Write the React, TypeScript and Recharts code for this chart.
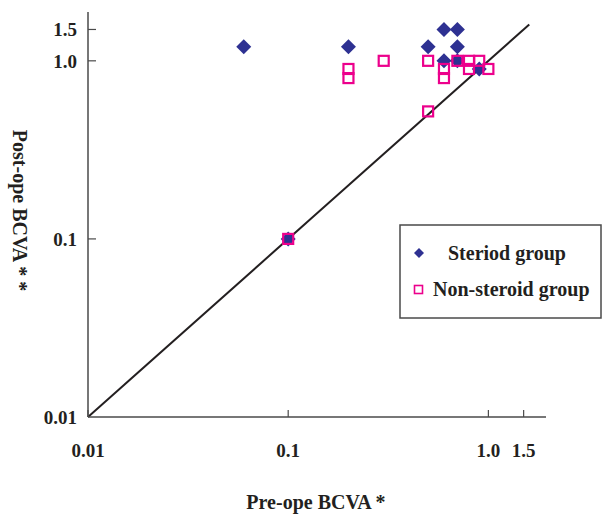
import React from 'react';
import { ScatterChart, Scatter, XAxis, YAxis, ReferenceLine } from 'recharts';

// Pre-operative BCVA (x) and post-operative BCVA (y)
const preOpeSteroid = [0.06, 0.2, 0.5, 0.6, 0.7, 0.7, 0.6, 0.7, 0.9, 0.1];
const postOpeSteroid = [1.2, 1.2, 1.2, 1.5, 1.5, 1.2, 1.0, 1.0, 0.9, 0.1];
const preOpeNonSteroid = [0.2, 0.2, 0.3, 0.5, 0.6, 0.6, 0.7, 0.8, 0.8, 0.9, 1.0, 0.5, 0.1];
const postOpeNonSteroid = [0.9, 0.8, 1.0, 1.0, 0.9, 0.8, 1.0, 1.0, 0.9, 1.0, 0.9, 0.52, 0.1];

const axisTicks = [0.01, 0.1, 1, 1.5];
const tickLabels = ['0.01', '0.1', '1.0', '1.5'];
const diagonalEnds = [0.01, 1.6];

const seriesNames = ['Steriod group', 'Non-steroid group'];
const xTitle = 'Pre-ope BCVA *';
const yTitle = 'Post-ope BCVA * *';

const steroidData = preOpeSteroid.map((x, i) => ({ x, y: postOpeSteroid[i] }));
const nonSteroidData = preOpeNonSteroid.map((x, i) => ({ x, y: postOpeNonSteroid[i] }));

const FONT = '"Liberation Serif", "Times New Roman", serif';
const TEXT = '#231F20';
const AXIS = '#4a4a4a';
const NAVY = '#2E3192';
const MAGENTA = '#EC008C';

const labelFor = (v: number) => {
  const i = axisTicks.indexOf(v);
  return i >= 0 ? tickLabels[i] : String(v);
};

const XTick = (props: any) => {
  const { x, y, payload } = props;
  return (
    <g>
      <line x1={x} x2={x} y1={y} y2={y - 7} stroke={AXIS} strokeWidth={1.2} />
      <text x={x} y={y + 40} textAnchor="middle" fontFamily={FONT} fontWeight="bold" fontSize={19} fill={TEXT}>
        {labelFor(payload.value)}
      </text>
    </g>
  );
};

const YTick = (props: any) => {
  const { x, y, payload } = props;
  return (
    <g>
      {payload.value !== 0.01 && (
        <line x1={x} x2={x + 8} y1={y} y2={y} stroke={AXIS} strokeWidth={1.2} />
      )}
      <text x={x - 11} y={y + 7} textAnchor="end" fontFamily={FONT} fontWeight="bold" fontSize={19} fill={TEXT}>
        {labelFor(payload.value)}
      </text>
    </g>
  );
};

const Diamond = (props: any) => {
  const { cx, cy } = props;
  const r = 7.5;
  return <polygon points={`${cx},${cy - r} ${cx + r},${cy} ${cx},${cy + r} ${cx - r},${cy}`} fill={NAVY} />;
};

const HollowSquare = (props: any) => {
  const { cx, cy } = props;
  const s = 10;
  return <rect x={cx - s / 2} y={cy - s / 2} width={s} height={s} fill="none" stroke={MAGENTA} strokeWidth={2.2} />;
};

const XTitle = (props: any) => {
  const vb = props.viewBox;
  return (
    <text x={vb.x + vb.width / 2 - 1} y={509} textAnchor="middle" fontFamily={FONT} fontWeight="bold" fontSize={20} fill={TEXT}>
      {xTitle}
    </text>
  );
};

const YTitle = (props: any) => {
  const vb = props.viewBox;
  const cx = 20;
  const cy = vb.y + vb.height / 2 - 4;
  return (
    <text x={cx} y={cy} textAnchor="middle" dominantBaseline="central" transform={`rotate(90 ${cx} ${cy})`} fontFamily={FONT} fontWeight="bold" fontSize={20} fill={TEXT}>
      {yTitle}
    </text>
  );
};

export default function App() {
  return (
    <div style={{ position: 'absolute', left: 0, top: 0, width: 602, height: 516, background: '#fff' }}>
      <ScatterChart width={602} height={516} margin={{ top: 12, right: 56, bottom: 0, left: 0 }}>
        <XAxis
          type="number"
          dataKey="x"
          scale="log"
          domain={[0.01, 1.94]}
          ticks={axisTicks}
          allowDataOverflow
          height={99}
          tickSize={0}
          tickMargin={0}
          tickLine={false}
          axisLine={{ stroke: AXIS, strokeWidth: 1.5 }}
          tick={<XTick />}
          label={<XTitle />}
        />
        <YAxis
          type="number"
          dataKey="y"
          scale="log"
          domain={[0.01, 1.88]}
          ticks={axisTicks}
          allowDataOverflow
          width={88}
          tickSize={0}
          tickMargin={0}
          tickLine={false}
          axisLine={{ stroke: AXIS, strokeWidth: 1.5 }}
          tick={<YTick />}
          label={<YTitle />}
        />
        <ReferenceLine
          segment={[
            { x: diagonalEnds[0], y: diagonalEnds[0] },
            { x: diagonalEnds[1], y: diagonalEnds[1] },
          ]}
          stroke={TEXT}
          strokeWidth={2}
          ifOverflow="visible"
        />
        <Scatter name={seriesNames[0]} data={steroidData} shape={<Diamond />} isAnimationActive={false} />
        <Scatter name={seriesNames[1]} data={nonSteroidData} shape={<HollowSquare />} isAnimationActive={false} />
      </ScatterChart>
      <svg style={{ position: 'absolute', left: 399, top: 224 }} width={203} height={95}>
        <rect x={1} y={1} width={201} height={93} fill="#fff" stroke={AXIS} strokeWidth={1.5} />
        <polygon points="20,24 25,29 20,34 15,29" fill={NAVY} />
        <text x={49} y={36} fontFamily={FONT} fontWeight="bold" fontSize={20} fill={TEXT}>{seriesNames[0]}</text>
        <rect x={15.5} y={61.5} width={8} height={8} fill="none" stroke={MAGENTA} strokeWidth={1.6} />
        <text x={34} y={72} fontFamily={FONT} fontWeight="bold" fontSize={20} fill={TEXT}>{seriesNames[1]}</text>
      </svg>
    </div>
  );
}
